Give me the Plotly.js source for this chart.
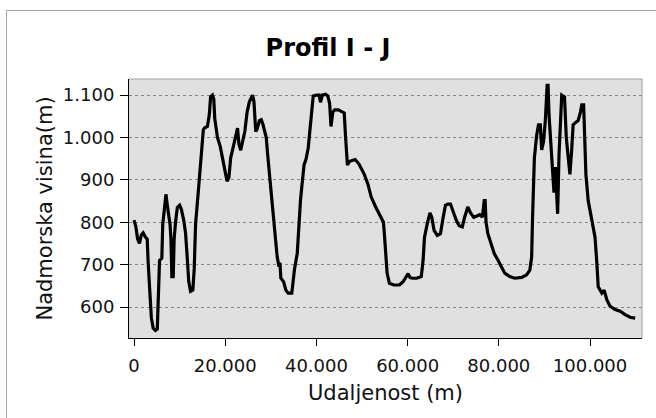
<!DOCTYPE html>
<html>
<head>
<meta charset="utf-8">
<script src="https://cdn.plot.ly/plotly-3.0.1.min.js"></script>
<style>
  html, body { margin: 0; padding: 0; background: #fff; overflow: hidden; }
  #wrap { position: relative; width: 656px; height: 418px; }
  #chart { width: 656px; height: 418px; }
  #frame { position: absolute; left: 6px; top: 10px; width: 700px; height: 500px;
           border: 1px solid #a8a8a8; pointer-events: none; box-sizing: border-box; }
</style>
</head>
<body>
<div id="wrap">
  <div id="chart"></div>
  <div id="frame"></div>
</div>
<script>
// Distance along the profile (m)
const distance = [
  0, 400, 800, 1200, 1600, 2000, 2500, 2900, 3100, 3500, 3800, 4200, 4700, 5100, 5400, 5600,
  6100, 6300, 6700, 7000, 7300, 7600, 7900, 8100, 8300, 8600, 8800, 9100, 9500, 10000, 10400,
  10900, 11300, 11700, 12000, 12400, 12900, 13200, 13500, 14000, 14500, 14800, 15200, 15500,
  16100, 16500, 16800, 17200, 17500, 17700, 18300, 18900, 19400, 19800, 20400, 20800, 21200,
  21700, 22200, 22700, 23000, 23400, 23900, 24300, 24800, 25300, 26000, 26300, 26700, 27000,
  27500, 27900, 28300, 28600, 29000, 29300, 29900, 30400, 30900, 31400, 31800, 32000, 32200,
  32800, 33300, 33800, 34600, 34900, 35200, 35800, 36100, 36500, 36900, 37300, 37700, 38200,
  38600, 39000, 39300, 40000, 40600, 40900, 41300, 42000, 42500, 42900, 43200, 43600, 44000,
  44800, 45500, 46100, 46400, 46800, 47300, 48000, 48500, 49300, 50000, 50500, 51300, 52000,
  53000, 53800, 54300, 54700, 54900, 55200, 55500, 56000, 57000, 58200, 59000, 59500, 60100,
  60500, 61000, 62000, 63000, 63400, 63700, 64300, 64900, 65300, 65800, 66500, 67200, 67800,
  68300, 68800, 69400, 70000, 70700, 71300, 72000, 72500, 73200, 73800, 74500, 75200, 75800,
  76400, 76800, 77000, 77200, 77600, 78200, 79000, 79800, 80600, 81300, 82400, 83500, 85000,
  86100, 86800, 87200, 87400, 87800, 88300, 88700, 89100, 89400, 89800, 90200, 90600, 90800,
  91000, 91400, 91800, 92100, 92400, 92700, 92900, 93200, 93500, 93800, 94400, 94800, 95200,
  95600, 96000, 96300, 96800, 97400, 97900, 98200, 98600, 98900, 99100, 99600, 100300, 101100,
  101500, 101800, 102600, 103100, 103700, 104400, 105500, 106600, 107700, 108800, 109900
];
// Elevation above sea level (m)
const elevation = [
  805, 790, 760, 750, 770, 775, 765, 760, 705, 640, 575, 550, 545, 548, 630, 710,
  715, 795, 835, 866, 840, 815, 795, 760, 672, 672, 760, 800, 835, 840, 830,
  805, 775, 712, 660, 637, 640, 690, 796, 860, 920, 960, 1018, 1023,
  1026, 1053, 1096, 1100, 1090, 1045, 1000, 979, 952, 921, 897, 905, 952,
  975, 1000, 1022, 985, 970, 995, 1014, 1060, 1084, 1100, 1085, 1014, 1020,
  1040, 1042, 1030, 1018, 1000, 960, 890, 835, 781, 718, 695, 705, 668,
  660, 640, 633, 633, 660, 690, 727, 789, 851, 895, 936, 948, 975,
  1020, 1077, 1098, 1100, 1100, 1083, 1100, 1102, 1098, 1080, 1026, 1060, 1065,
  1065, 1062, 1058, 1000, 935, 944, 946, 948, 938, 925, 913, 890, 860,
  836, 820, 810, 800, 773, 734, 680, 656, 652, 652, 660, 668, 679,
  670, 668, 668, 672, 711, 765, 796, 822, 812, 781, 769, 773, 812,
  840, 843, 843, 825, 804, 792, 789, 812, 836, 822, 812, 815, 818,
  812, 851, 851, 800, 773, 750, 726, 711, 695, 680, 672, 668, 670,
  676, 687, 718, 812, 952, 1005, 1030, 1030, 971, 990, 1040, 1123, 1123,
  1055, 990, 915, 870, 930, 830, 820, 960, 1050, 1100, 1096, 1000, 955,
  913, 975, 1030, 1035, 1040, 1060, 1077, 1077, 980, 913, 851, 812, 765,
  703, 648, 633, 640, 617, 602, 594, 590, 582, 576, 574
];
// Tick positions and labels
const xTickVals = [0, 20000, 40000, 60000, 80000, 100000];
const xTickText = ['0', '20.000', '40.000', '60.000', '80.000', '100.000'];
const yTickVals = [600, 700, 800, 900, 1000, 1100];
const yTickText = ['600', '700', '800', '900', '1.000', '1.100'];

const trace = {
  x: distance,
  y: elevation,
  type: 'scatter',
  mode: 'lines',
  line: { color: '#000', width: 3.2 },
  hoverinfo: 'skip'
};

const fontFam = '"DejaVu Sans", Verdana, sans-serif';

const layout = {
  width: 656,
  height: 418,
  margin: { l: 129, r: 14, t: 79, b: 80 },
  paper_bgcolor: '#ffffff',
  plot_bgcolor: '#e0e0e0',
  showlegend: false,
  font: { family: fontFam, color: '#000' },
  title: {
    text: '<b>Profil I - J</b>',
    font: { family: fontFam, size: 24, color: '#000' },
    x: 0.5, xref: 'container', xanchor: 'center',
    y: 1 - 48 / 418, yref: 'container', yanchor: 'middle'
  },
  xaxis: {
    range: [-1100, 111400],
    tickvals: xTickVals,
    ticktext: xTickText,
    ticks: 'outside', ticklen: 7, tickwidth: 1, tickcolor: '#000',
    ticklabelstandoff: 4,
    showline: true, linecolor: '#000', linewidth: 1,
    showgrid: false, zeroline: false,
    tickfont: { family: fontFam, size: 18, color: '#111' },
    title: { text: 'Udaljenost (m)', font: { family: fontFam, size: 21, color: '#111' }, standoff: 10 }
  },
  yaxis: {
    range: [527, 1138],
    tickvals: yTickVals,
    ticktext: yTickText,
    ticks: 'outside', ticklen: 8, tickwidth: 1, tickcolor: '#000',
    ticklabelstandoff: 2,
    showline: true, linecolor: '#000', linewidth: 1,
    showgrid: true, gridcolor: '#858585', griddash: 'dot', gridwidth: 1,
    zeroline: false,
    tickfont: { family: fontFam, size: 18, color: '#111' },
    title: { text: 'Nadmorska visina(m)', font: { family: fontFam, size: 21, color: '#111' }, standoff: 4 }
  },
  shapes: [
    { type: 'line', xref: 'paper', yref: 'paper', x0: 0, x1: 1, y0: 1, y1: 1,
      line: { color: '#a0a0a0', width: 1 } },
    { type: 'line', xref: 'paper', yref: 'paper', x0: 1, x1: 1, y0: 0, y1: 1,
      line: { color: '#a0a0a0', width: 1 } }
  ]
};

Plotly.newPlot('chart', [trace], layout, { staticPlot: true, displayModeBar: false });
</script>
</body>
</html>
